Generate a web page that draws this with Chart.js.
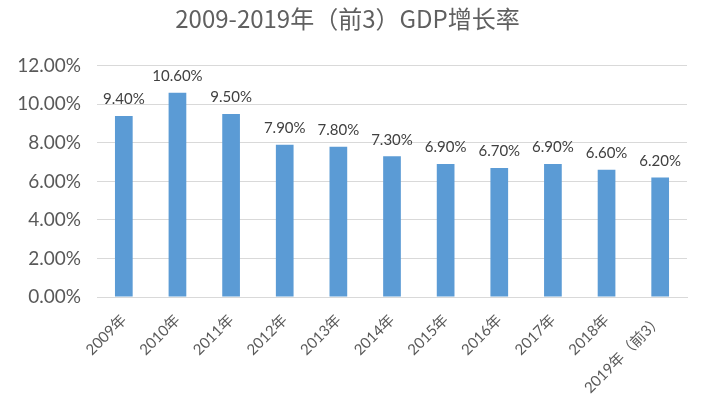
<!DOCTYPE html>
<html>
<head>
<meta charset="utf-8">
<script src="https://cdn.jsdelivr.net/npm/chart.js@4"></script>
<style>
html,body{margin:0;padding:0;background:#fff;}
#wrap{width:702px;height:412px;position:relative;}
</style>
</head>
<body>
<div id="wrap"><canvas id="c"></canvas></div>
<script>
const categories = ["2009年","2010年","2011年","2012年","2013年","2014年","2015年","2016年","2017年","2018年","2019年（前3）"];
const growthRates = [9.4, 10.6, 9.5, 7.9, 7.8, 7.3, 6.9, 6.7, 6.9, 6.6, 6.2];
const yTicks = [0, 2, 4, 6, 8, 10, 12];
const chartTitle = "2009-2019年（前3）GDP增长率";

const FONT = "Lato, 'Noto Sans CJK SC', sans-serif";

const valueLabels = {
  id: 'valueLabels',
  afterDatasetsDraw(chart) {
    const ctx = chart.ctx;
    const meta = chart.getDatasetMeta(0);
    ctx.save();
    ctx.font = "15px " + FONT;
    ctx.fillStyle = "#404040";
    ctx.textAlign = "center";
    ctx.textBaseline = "bottom";
    meta.data.forEach((bar, i) => {
      ctx.fillText(growthRates[i].toFixed(2) + "%", bar.x, bar.y - 9);
    });
    ctx.restore();
  }
};

new Chart(document.getElementById('c'), {
  type: 'bar',
  data: {
    labels: categories,
    datasets: [{
      data: growthRates,
      backgroundColor: '#5B9BD5',
      barPercentage: 0.66,
      categoryPercentage: 0.5
    }]
  },
  options: {
    responsive: true,
    maintainAspectRatio: false,
    animation: false,
    layout: { padding: { left: 8, right: 15, top: 0, bottom: 0 } },
    plugins: {
      legend: { display: false },
      tooltip: { enabled: false },
      title: {
        display: true,
        text: chartTitle,
        color: '#606060',
        font: { size: 24, family: "'Noto Sans CJK SC', sans-serif", weight: 'normal' },
        padding: { top: 4, bottom: 33 }
      }
    },
    scales: {
      x: {
        grid: { display: false, drawTicks: false },
        border: { color: '#d9d9d9' },
        ticks: {
          color: '#595959',
          font: { size: 15, family: FONT },
          minRotation: 45,
          maxRotation: 45,
          autoSkip: false,
          padding: 14
        },
        afterFit(scale) { scale.height = 115; }
      },
      y: {
        min: 0,
        max: 12,
        afterBuildTicks(scale) { scale.ticks = yTicks.map(v => ({ value: v })); },
        grid: { color: '#d9d9d9', drawTicks: false },
        border: { display: false },
        ticks: {
          color: '#595959',
          font: { size: 19, family: FONT },
          padding: 16,
          callback: v => v.toFixed(2) + "%"
        },
        afterFit(scale) { scale.width = 89; }
      }
    }
  },
  plugins: [valueLabels]
});
</script>
</body>
</html>
